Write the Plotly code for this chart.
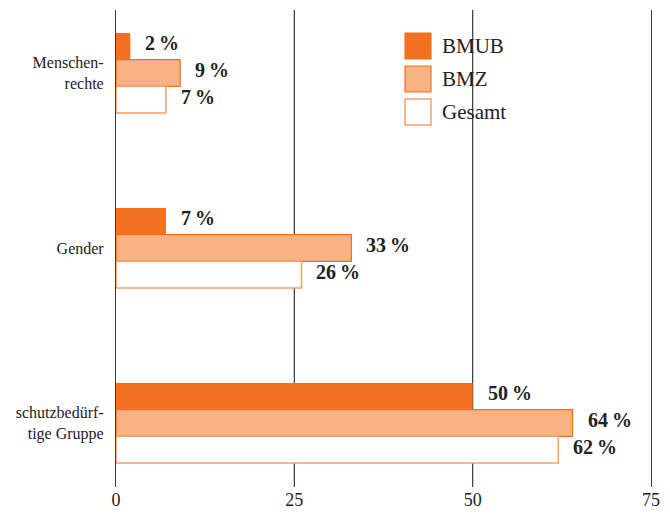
import plotly.graph_objects as go

categories = ["Menschen-<br>rechte", "Gender", "schutzbedürf-<br>tige Gruppe"]
series_names = ["BMUB", "BMZ", "Gesamt"]
bmub = [2, 7, 50]
bmz = [9, 33, 64]
gesamt = [7, 26, 62]
x_ticks = [0, 25, 50, 75]

values = [bmub, bmz, gesamt]
fills = ["#F37021", "#F8B283", "#FFFFFF"]
borders = ["#F37021", "#F37021", "#F8A06C"]
border_w = [0, 1.2, 1.5]

W, H = 670, 529
ML, MR, MT, MB = 116, 19, 10, 42
pw, ph = W - ML - MR, H - MT - MB
x_range = [0, 75]

fig = go.Figure()
for name, vals, fc, bc, bw in zip(series_names, values, fills, borders, border_w):
    fig.add_trace(go.Bar(
        y=categories, x=vals, name=name, orientation="h",
        marker=dict(color=fc, line=dict(color=bc, width=bw)),
        showlegend=False, hoverinfo="x+name",
    ))

serif = "Liberation Serif"
bar_px = 0.457 * 175 / 3
annotations = []
for i, vals in enumerate(values):
    for cat, v in zip(categories, vals):
        annotations.append(dict(
            x=v, y=cat, xref="x", yref="y", text=f"<b>{v}\u2009%</b>", showarrow=False,
            xanchor="left", yanchor="middle", xshift=13,
            yshift=(1 - i) * bar_px + 3,
            font=dict(family=serif, size=20, color="#222"),
            ))

shapes = []
# inner vertical grid lines behind the bars (edges come from the mirrored y-axis line)
for t in x_ticks[1:-1]:
    shapes.append(dict(type="line", xref="x", yref="paper", x0=t, x1=t, y0=0, y1=1,
                       line=dict(color="#3a3a3a", width=1.2), layer="below"))

# legend drawn manually (large square swatches)
def px_to_paper(x, y):
    return (x - ML) / pw, (H - MB - y) / ph

legend_top = [33, 66, 99]
for name, fc, bc, bw, ty in zip(series_names, fills, borders, border_w, legend_top):
    x0, y0 = px_to_paper(405, ty + 26)
    x1, y1 = px_to_paper(431, ty)
    shapes.append(dict(type="rect", xref="paper", yref="paper", x0=x0, x1=x1, y0=y0, y1=y1,
                       fillcolor=fc, line=dict(color=bc, width=max(bw, 1.2)), layer="above"))
    tx, tyc = px_to_paper(440, ty + 13)
    annotations.append(dict(x=tx, y=tyc, xref="paper", yref="paper", text=name, showarrow=False,
                            xanchor="left", yanchor="middle",
                            font=dict(family=serif, size=21, color="#222")))

fig.update_layout(
    width=W, height=H,
    margin=dict(l=ML, r=MR, t=MT, b=MB, pad=0),
    paper_bgcolor="white", plot_bgcolor="white",
    barmode="group", bargap=0.543, bargroupgap=0,
    showlegend=False,
    annotations=annotations, shapes=shapes,
    xaxis=dict(range=x_range, tickvals=x_ticks, ticktext=[str(t) for t in x_ticks],
               showgrid=False, zeroline=False,
               showline=False, ticks="", ticklen=0,
               tickfont=dict(family=serif, size=18, color="#222")),
    yaxis=dict(range=[2 + 64 / 175, -63 / 175], showgrid=False, zeroline=False,
               showline=True, mirror=True, linecolor="#3a3a3a", linewidth=1.2,
               ticks="", ticklen=0, ticklabelstandoff=8,
               tickfont=dict(family=serif, size=16, color="#222")),
)

fig.write_html("out.html", config={"displayModeBar": False},
               post_script=("document.body.style.margin='0';document.body.style.padding='0';"
                            "document.documentElement.style.overflow='hidden';"))
